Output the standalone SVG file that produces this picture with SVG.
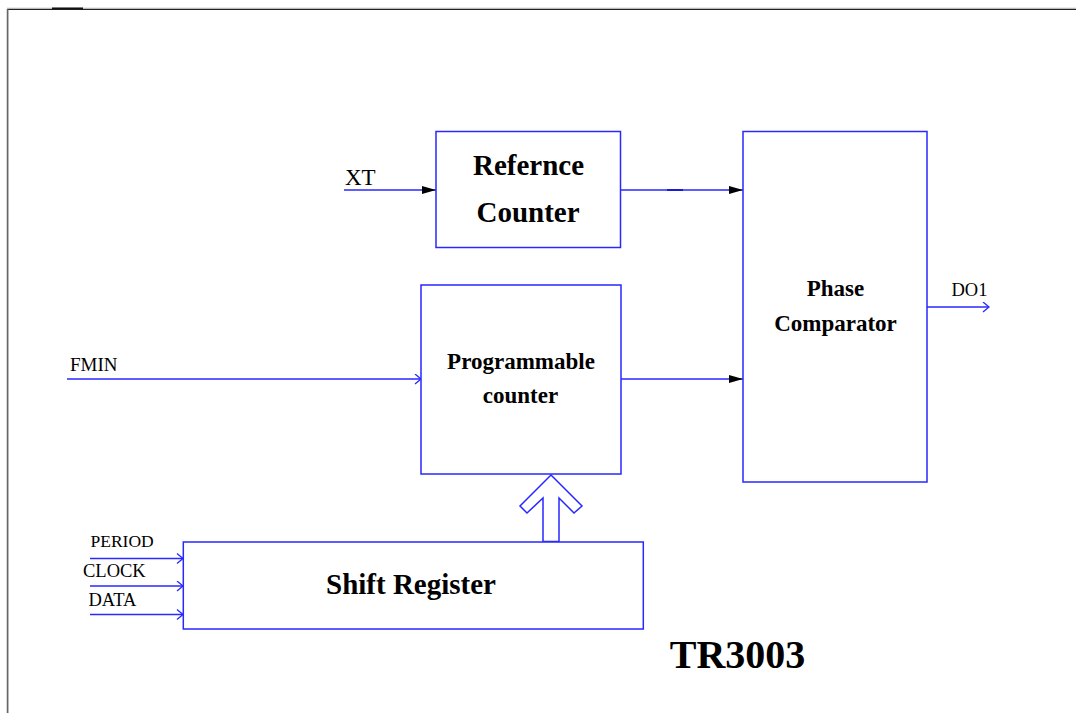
<svg xmlns="http://www.w3.org/2000/svg" width="1076" height="714" viewBox="0 0 1076 714">
<defs>
<style>
.box{fill:#fff;stroke:#2828ff;stroke-width:1.5}
.ln{stroke:#2828ff;stroke-width:1.5;fill:none}
.b{font-family:"Liberation Serif","Times New Roman",serif;font-weight:bold;fill:#000;text-anchor:middle}
.r{font-family:"Liberation Serif","Times New Roman",serif;fill:#000}
</style>
<marker id="tri" markerUnits="userSpaceOnUse" markerWidth="15" markerHeight="9" refX="14" refY="4" orient="auto">
<path d="M0,0 L14,4 L0,8 z" fill="#000"/>
</marker>
<marker id="chev" markerUnits="userSpaceOnUse" markerWidth="9" markerHeight="12" refX="7" refY="5.5" orient="auto">
<path d="M1,0.5 L7,5.5 L1,10.5" fill="none" stroke="#2828ff" stroke-width="1.3"/>
</marker>
</defs>
<rect width="1076" height="714" fill="#fff"/>
<g id="frame">
<line x1="7" y1="8" x2="1076" y2="8" stroke="#d8d8d8" stroke-width="1"/>
<line x1="7" y1="9.3" x2="1076" y2="9.3" stroke="#222" stroke-width="1.3"/>
<line x1="52" y1="8.3" x2="83" y2="8.3" stroke="#111" stroke-width="1.6"/>
<line x1="7.6" y1="9" x2="7.6" y2="713" stroke="#666" stroke-width="1.7"/>
</g>
<g id="connectors">
<line class="ln" x1="344" y1="190" x2="436" y2="190" marker-end="url(#tri)"/>
<line class="ln" x1="620" y1="190" x2="743" y2="190" marker-end="url(#tri)"/>
<line x1="667" y1="190" x2="683" y2="190" stroke="#1010d0" stroke-width="1.7"/>
<line class="ln" x1="67" y1="379" x2="421" y2="379" marker-end="url(#chev)"/>
<line class="ln" x1="621" y1="379" x2="743" y2="379" marker-end="url(#tri)"/>
<line class="ln" x1="927" y1="307" x2="989" y2="307" marker-end="url(#chev)"/>
<line class="ln" x1="90" y1="558.5" x2="183" y2="558.5" marker-end="url(#chev)"/>
<line class="ln" x1="90" y1="586" x2="183" y2="586" marker-end="url(#chev)"/>
<line class="ln" x1="90" y1="614.5" x2="183" y2="614.5" marker-end="url(#chev)"/>
<polygon class="ln" points="551,475 582,506 574,513 559,498 559,541.5 543,541.5 543,498 527,513 520,506"/>
</g>
<g id="labels">
<text class="r" x="345" y="185" font-size="23">XT</text>
<text class="r" x="70" y="370.5" font-size="19">FMIN</text>
<text class="r" x="951.5" y="296" font-size="18.5">DO1</text>
<text class="r" x="90.5" y="546.5" font-size="17.5">PERIOD</text>
<text class="r" x="83" y="576.5" font-size="18.5">CLOCK</text>
<text class="r" x="88.5" y="605.5" font-size="18.5">DATA</text>
</g>
<g id="reference-counter">
<rect class="box" x="436" y="131.5" width="184.5" height="116"/>
<text class="b" x="528.5" y="175" font-size="29">Refernce</text>
<text class="b" x="528" y="221.5" font-size="29">Counter</text>
</g>
<g id="phase-comparator">
<rect class="box" x="743" y="131.5" width="184" height="350.5"/>
<text class="b" x="835.5" y="296" font-size="23">Phase</text>
<text class="b" x="835.5" y="331" font-size="23">Comparator</text>
</g>
<g id="programmable-counter">
<rect class="box" x="421" y="285" width="200" height="189"/>
<text class="b" x="521" y="369.3" font-size="23">Programmable</text>
<text class="b" x="520.5" y="403.3" font-size="23">counter</text>
</g>
<g id="shift-register">
<rect class="box" x="183.3" y="542" width="460" height="87"/>
<text class="b" x="411" y="594.3" font-size="29">Shift Register</text>
</g>
<g id="title">
<text class="b" x="737.5" y="668" font-size="40">TR3003</text>
</g>
</svg>
